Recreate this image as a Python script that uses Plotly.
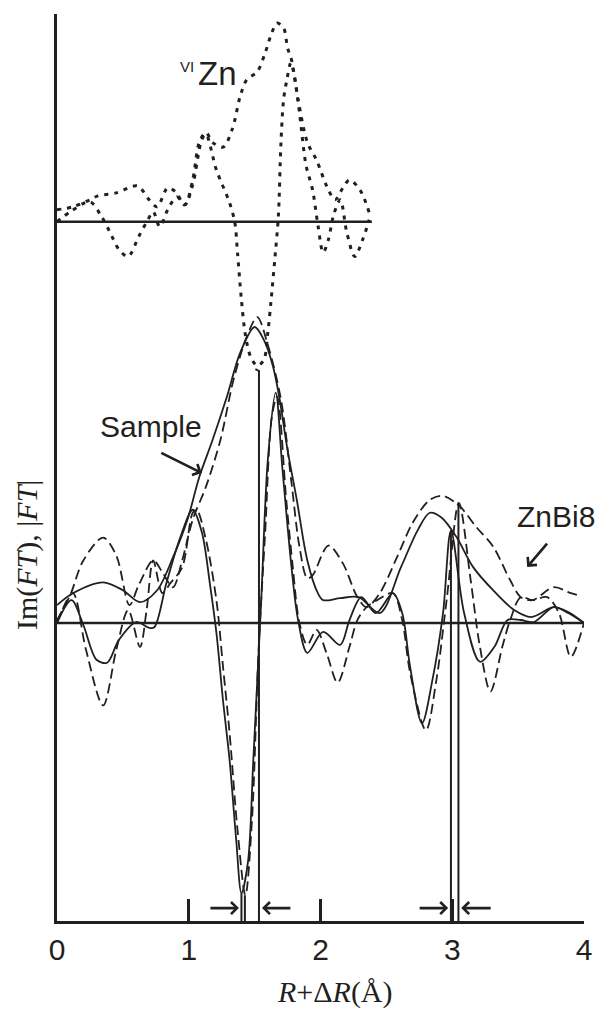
import plotly.graph_objects as go

# ---------------- data (R in Å, amplitudes in arbitrary units) ----------------
# Sample |FT| (solid)
s_mag_r = [0.00, 0.12, 0.35, 0.50, 0.63, 0.76, 0.88, 0.99, 1.08, 1.18, 1.29, 1.39, 1.50, 1.57, 1.64,
           1.69, 1.75, 1.82, 1.90, 1.98, 2.02, 2.15, 2.29, 2.45, 2.61, 2.74, 2.83, 2.92, 3.03, 3.16,
           3.31, 3.47, 3.60, 3.77, 3.88, 4.00]
s_mag_v = [0.18, 0.30, 0.41, 0.33, 0.21, 0.33, 0.66, 1.04, 1.47, 1.84, 2.28, 2.72, 2.98, 2.85, 2.58,
           2.25, 1.74, 1.24, 0.63, 0.30, 0.23, 0.25, 0.26, 0.10, 0.56, 0.94, 1.11, 1.06, 0.87, 0.56,
           0.33, 0.13, 0.06, 0.16, 0.11, 0.00]
# Sample Im(FT) (solid)
s_im_r = [0.00, 0.11, 0.20, 0.30, 0.38, 0.47, 0.60, 0.70, 0.74, 0.83, 0.93, 1.03, 1.10, 1.16, 1.21,
          1.26, 1.31, 1.36, 1.40, 1.45, 1.49, 1.55, 1.60, 1.66, 1.71, 1.78, 1.83, 1.90, 2.02, 2.15,
          2.22, 2.31, 2.42, 2.55, 2.62, 2.68, 2.77, 2.85, 2.93, 2.99, 3.09, 3.21, 3.32, 3.42, 3.52,
          3.62, 3.77, 3.88, 4.00]
s_im_v = [0.00, 0.23, -0.02, -0.37, -0.40, -0.17, 0.01, -0.05, -0.04, 0.40, 0.84, 1.14, 0.91, 0.40, -0.10,
          -0.78, -1.38, -2.18, -2.72, -2.40, -1.38, 0.23, 1.64, 2.32, 1.57, 0.56, 0.03, -0.30, -0.09, -0.22,
          0.03, 0.26, 0.10, 0.30, 0.10, -0.44, -1.01, -0.57, 0.10, 0.93, 0.10, -0.39, -0.24, 0.03, 0.03,
          0.01, 0.16, 0.10, 0.00]
# ZnBi8 |FT| (dashed)
d_mag_r = [0.00, 0.10, 0.20, 0.35, 0.45, 0.55, 0.62, 0.73, 0.80, 0.88, 0.95, 1.03, 1.13, 1.24, 1.34,
           1.44, 1.52, 1.60, 1.70, 1.78, 1.84, 1.90, 1.94, 2.06, 2.17, 2.28, 2.35, 2.45, 2.58, 2.70,
           2.83, 2.93, 3.06, 3.18, 3.31, 3.44, 3.52, 3.61, 3.77, 3.90, 3.96]
d_mag_v = [0.03, 0.28, 0.63, 0.86, 0.68, 0.18, 0.38, 0.63, 0.51, 0.36, 0.63, 1.04, 1.37, 1.84, 2.45,
           2.88, 3.08, 2.80, 2.25, 1.41, 0.77, 0.45, 0.48, 0.78, 0.60, 0.26, 0.16, 0.30, 0.66, 1.01,
           1.24, 1.28, 1.17, 0.97, 0.77, 0.43, 0.26, 0.23, 0.36, 0.30, 0.28]
# ZnBi8 Im(FT) (dashed)
d_im_r = [0.00, 0.12, 0.22, 0.35, 0.45, 0.54, 0.63, 0.68, 0.73, 0.80, 0.86, 0.95, 1.03, 1.06, 1.13,
          1.21, 1.26, 1.31, 1.37, 1.43, 1.48, 1.53, 1.58, 1.63, 1.67, 1.74, 1.79, 1.84, 1.90, 1.97,
          2.05, 2.13, 2.22, 2.28, 2.35, 2.43, 2.55, 2.62, 2.68, 2.80, 2.88, 2.96, 3.05, 3.14, 3.21,
          3.29, 3.38, 3.44, 3.52, 3.61, 3.72, 3.81, 3.90, 4.00]
d_im_v = [0.00, 0.30, -0.27, -0.83, -0.27, 0.13, -0.24, 0.13, 0.63, 0.30, 0.40, 0.56, 1.11, 1.14, 0.84,
          0.23, -0.44, -1.11, -2.08, -2.74, -1.98, -0.27, 0.91, 2.07, 2.28, 1.24, 0.56, 0.00, -0.22, -0.07,
          -0.32, -0.60, -0.24, 0.03, 0.16, 0.23, 0.30, 0.03, -0.50, -1.08, -0.57, 0.26, 1.21, 0.43, -0.24,
          -0.69, -0.24, 0.03, 0.26, 0.23, 0.26, 0.10, -0.34, 0.00]
# VI-Zn reference |FT| (dotted, upper panel)
zn_mag_r = [0.00, 0.12, 0.25, 0.31, 0.45, 0.61, 0.70, 0.76, 0.84, 0.90, 0.97, 1.03, 1.08, 1.13, 1.18,
            1.26, 1.33, 1.39, 1.44, 1.52, 1.58, 1.63, 1.67, 1.72, 1.75, 1.78, 1.83, 1.90, 1.97, 2.05,
            2.11, 2.17, 2.22, 2.30, 2.37]
zn_mag_v = [0.12, 0.15, 0.22, 0.26, 0.29, 0.36, 0.22, 0.15, 0.34, 0.30, 0.17, 0.42, 0.80, 0.90, 0.80,
            0.75, 0.93, 1.26, 1.43, 1.51, 1.70, 1.90, 2.00, 1.95, 1.75, 1.63, 1.23, 0.80, 0.62, 0.35,
            0.22, 0.34, 0.42, 0.32, 0.09]
# VI-Zn reference Im(FT) (dotted, upper panel)
zn_im_r = [0.00, 0.10, 0.25, 0.33, 0.40, 0.47, 0.54, 0.62, 0.69, 0.73, 0.78, 0.84, 0.91, 0.97, 1.03,
           1.10, 1.13, 1.21, 1.31, 1.35, 1.37, 1.40, 1.43, 1.47, 1.52, 1.57, 1.60, 1.625, 1.655, 1.68,
           1.70, 1.72, 1.745, 1.775, 1.80, 1.84, 1.89, 1.94, 1.98, 2.02, 2.06, 2.10, 2.15, 2.20, 2.26,
           2.32, 2.37]
zn_im_v = [0.00, 0.10, 0.20, 0.07, -0.10, -0.28, -0.35, -0.15, 0.02, 0.10, -0.05, 0.12, 0.25, 0.17, 0.37,
           0.83, 0.88, 0.52, 0.19, -0.01, -0.31, -0.79, -1.14, -1.36, -1.45, -1.39, -1.12, -0.79, -0.35, 0.05,
           0.80, 1.23, 1.43, 1.60, 1.48, 1.10, 0.57, 0.32, -0.03, -0.31, -0.18, 0.07, 0.22, -0.11, -0.35,
           -0.18, 0.02]
zn_offset = 4.04          # vertical shift of the VI-Zn panel
zn_baseline_end = 2.39

# vertical marker lines (R position, top amplitude)
marker_r = [1.400, 1.426, 2.990, 3.047]
marker_top = [-2.72, -2.74, 0.93, 1.21]
main_marker_r = 1.533
main_marker_top = 2.537
bottom = -3.0

# double-arrow pairs at the bottom (head R, tail R)
arrow_y = -2.87
arrow_pairs = [(1.381, 1.153), (1.556, 1.783), (2.969, 2.741), (3.068, 3.303)]

x_ticks = [0, 1, 2, 3, 4]

# ---------------- figure ----------------
INK = "#231f20"
fig = go.Figure()

def add_line(x, y, dash=None, width=1.8, shape="spline"):
    fig.add_trace(go.Scatter(x=x, y=y, mode="lines",
                             line=dict(color=INK, width=width, dash=dash, shape=shape, smoothing=0.9),
                             hoverinfo="skip", showlegend=False))

# baselines
add_line([0, 4], [0, 0], width=2.6, shape="linear")
add_line([0, zn_baseline_end], [zn_offset, zn_offset], width=2.6, shape="linear")

# main curves
add_line(s_mag_r, s_mag_v)
add_line(s_im_r, s_im_v)
add_line(d_mag_r, d_mag_v, dash="10px,5px")
add_line(d_im_r, d_im_v, dash="10px,5px")

# VI-Zn curves
add_line(zn_mag_r, [v + zn_offset for v in zn_mag_v], dash="4px,6px", width=3)
add_line(zn_im_r, [v + zn_offset for v in zn_im_v], dash="4px,6px", width=3)

# marker lines
for r, t in zip(marker_r, marker_top):
    add_line([r, r], [t, bottom], width=2, shape="linear")
add_line([main_marker_r - 0.027, main_marker_r, main_marker_r],
         [main_marker_top + 0.02, main_marker_top, bottom], width=2, shape="linear")

annotations = []
for head, tail in arrow_pairs:
    annotations.append(dict(x=head, y=arrow_y, ax=tail, ay=arrow_y, xref="x", yref="y",
                            axref="x", ayref="y", text="", showarrow=True, arrowhead=4,
                            arrowsize=0.9, arrowwidth=2.6, arrowcolor=INK, standoff=0))
# label arrows
annotations.append(dict(x=1.099, y=1.51, ax=0.780, ay=1.72, xref="x", yref="y", axref="x", ayref="y",
                        text="", showarrow=True, arrowhead=4, arrowsize=0.9, arrowwidth=2.6,
                        arrowcolor=INK, standoff=0))
annotations.append(dict(x=3.569, y=0.564, ax=3.729, ay=0.815, xref="x", yref="y", axref="x", ayref="y",
                        text="", showarrow=True, arrowhead=4, arrowsize=0.9, arrowwidth=2.6,
                        arrowcolor=INK, standoff=0))

sans = "Liberation Sans, Arial, sans-serif"
serif = "Liberation Serif, Times New Roman, serif"
annotations += [
    dict(x=0.712, y=1.98, xref="x", yref="y", text="Sample", showarrow=False,
         xanchor="center", yanchor="middle", font=dict(family=sans, size=30, color=INK)),
    dict(x=3.79, y=1.07, xref="x", yref="y", text="ZnBi8", showarrow=False,
         xanchor="center", yanchor="middle", font=dict(family=sans, size=30, color=INK)),
    dict(x=1.221, y=5.537, xref="x", yref="y", text="Zn", showarrow=False,
         xanchor="center", yanchor="middle", font=dict(family=sans, size=33, color=INK)),
    dict(x=0.987, y=5.607, xref="x", yref="y", text="VI", showarrow=False,
         xanchor="center", yanchor="middle", font=dict(family=sans, size=15, color=INK)),
    dict(x=0.5266, y=-0.0783, xref="paper", yref="paper", text="<i>R</i>+Δ<i>R</i>(Å)",
         xanchor="center", yanchor="middle",
         showarrow=False, font=dict(family=serif, size=30, color=INK)),
    dict(x=-0.0569, y=0.4035, xref="paper", yref="paper", text="Im(<i>FT</i>), |<i>FT</i>|",
         xanchor="center", yanchor="middle",
         showarrow=False, textangle=-90, font=dict(family=serif, size=30, color=INK)),
]

# the page body keeps its default 8px margin: the figure is offset by 8px and
# sized so that it reaches the right and bottom edges of the window
fig.update_layout(
    width=595, height=1004,
    margin=dict(l=49, r=19, t=6, b=91),
    paper_bgcolor="white", plot_bgcolor="white",
    showlegend=False,
    annotations=annotations,
    xaxis=dict(range=[0, 4], tickvals=x_ticks, ticktext=[str(t) for t in x_ticks],
               ticks="inside", ticklen=22, tickwidth=2.6, tickcolor=INK,
               showline=True, linewidth=3, linecolor=INK, showgrid=False, zeroline=False,
               tickfont=dict(family=sans, size=30, color=INK), fixedrange=True),
    yaxis=dict(range=[-3.0, 6.131], showticklabels=False, ticks="", showline=True,
               linewidth=3, linecolor=INK, showgrid=False, zeroline=False, fixedrange=True),
)

fig.write_html("out.html")
